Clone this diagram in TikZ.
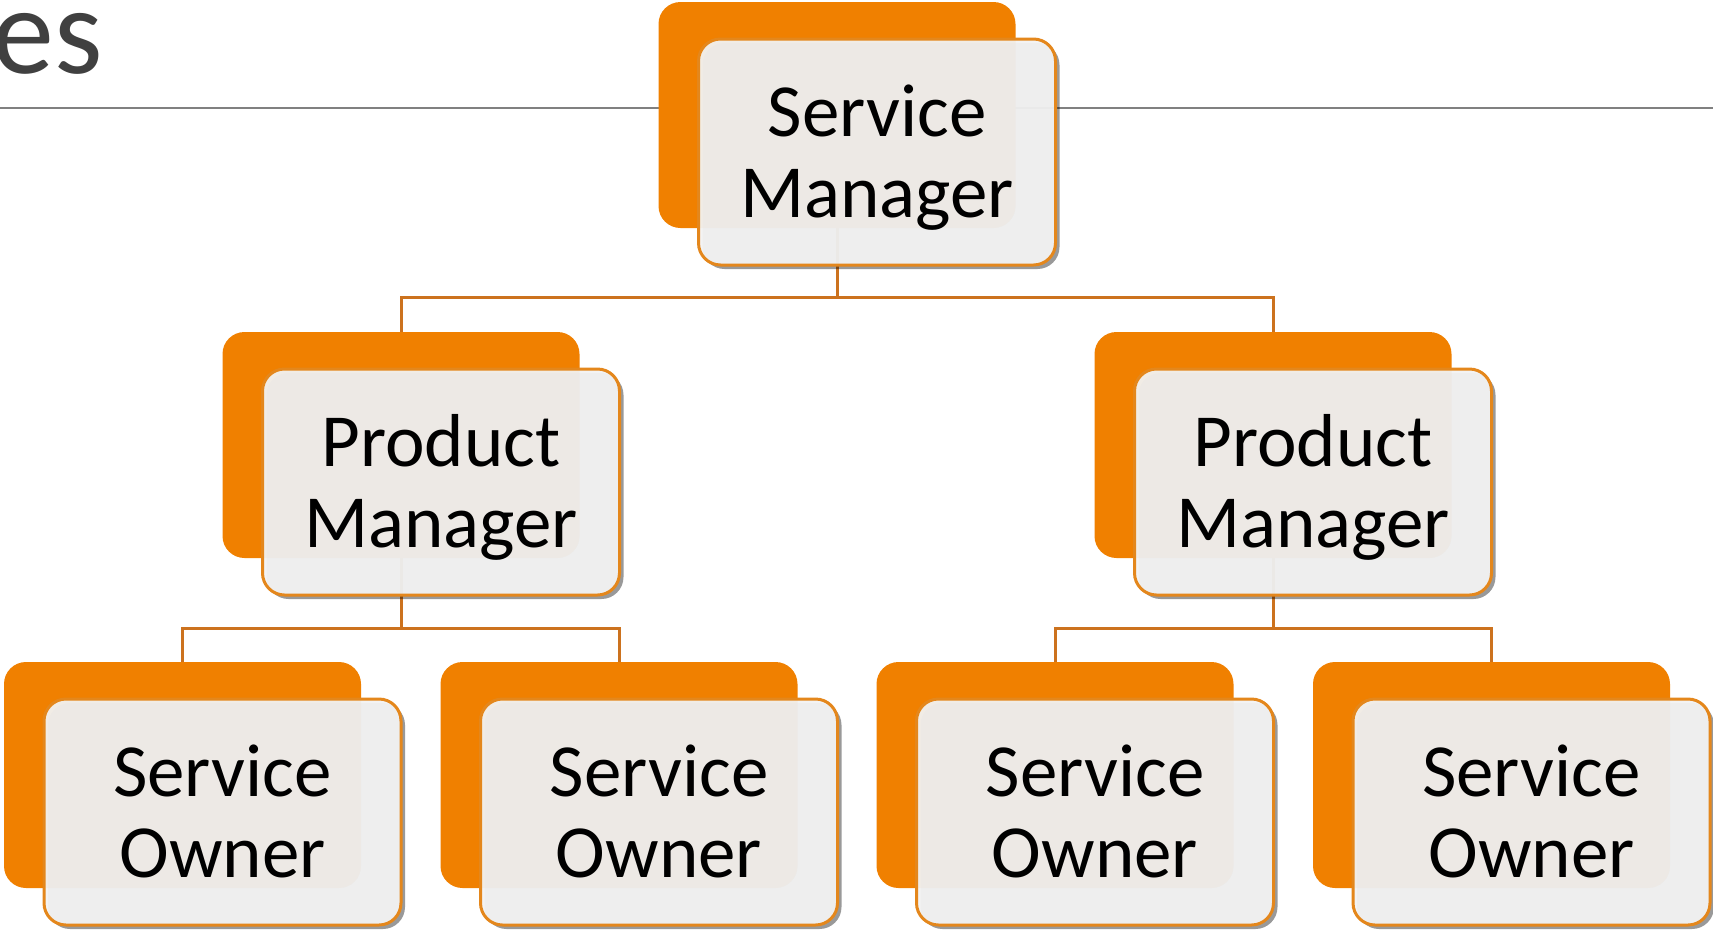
\documentclass[tikz,border=0pt]{standalone}
\usepackage{fontspec}
\setmainfont{Carlito}
\usetikzlibrary{shadows}

\definecolor{boxorange}{RGB}{240,128,0}
\definecolor{boxedge}{RGB}{228,135,28}
\definecolor{boxfill}{RGB}{242,242,242}
\definecolor{linkcol}{RGB}{204,114,30}
\definecolor{rulegray}{RGB}{128,128,128}
\definecolor{titlegray}{RGB}{64,64,64}

% two centred lines with fixed top height and bottom depth
\newcommand{\boxlines}[2]{\rule{0pt}{68pt}#1\\#2\rule[-19pt]{0pt}{0pt}}

\tikzset{
  backcard/.style={draw=none, fill=boxorange, rounded corners=22pt,
    minimum width=357pt, minimum height=226pt, inner sep=0pt},
  frontcard/.style={draw=boxedge, line width=3pt, fill=boxfill,
    fill opacity=0.95, text opacity=1, text=black, rounded corners=22pt,
    minimum width=357pt, minimum height=226pt, inner sep=0pt,
    align=center, font=\fontsize{75}{81}\selectfont,
    drop shadow={shadow xshift=4pt, shadow yshift=-4pt, opacity=0.4, fill=black}},
  link/.style={draw=linkcol, line width=3pt},
  titletext/.style={font=\fontsize{124}{124}\selectfont, text=titlegray,
    inner sep=0pt},
}

\begin{document}
\begin{tikzpicture}[x=1pt, y=-1pt]
  \useasboundingbox (0,0) rectangle (1713,930);

  % title fragment and header rule
  \node[titletext, anchor=base east] (title) at (103,73) {es};
  \coordinate (ruleL) at (0,108);
  \coordinate (ruleR) at (1713,108);
  \draw[rulegray, line width=2pt] (ruleL) -- (ruleR);

  % orange back cards
  \node[backcard] (sm-b)  at (837,115) {};
  \node[backcard] (pm1-b) at (401,445) {};
  \node[backcard] (pm2-b) at (1273,445) {};
  \node[backcard] (so1-b) at (182.5,775) {};
  \node[backcard] (so2-b) at (619,775) {};
  \node[backcard] (so3-b) at (1055,775) {};
  \node[backcard] (so4-b) at (1491.5,775) {};

  % hierarchy connectors
  \draw[link] (sm-b.south) -- ++(0,69) -| (pm1-b.north);
  \draw[link] (sm-b.south) -- ++(0,69) -| (pm2-b.north);
  \draw[link] (pm1-b.south) -- ++(0,70) -| (so1-b.north);
  \draw[link] (pm1-b.south) -- ++(0,70) -| (so2-b.north);
  \draw[link] (pm2-b.south) -- ++(0,70) -| (so3-b.north);
  \draw[link] (pm2-b.south) -- ++(0,70) -| (so4-b.north);

  % light front cards with the labels
  \node[frontcard] (sm)  at (877,152) {\boxlines{Service}{Manager}};
  \node[frontcard] (pm1) at (441,482) {\boxlines{Product}{Manager}};
  \node[frontcard] (pm2) at (1313,482) {\boxlines{Product}{Manager}};
  \node[frontcard] (so1) at (222.5,812) {\boxlines{Service}{Owner}};
  \node[frontcard] (so2) at (659,812) {\boxlines{Service}{Owner}};
  \node[frontcard] (so3) at (1095,812) {\boxlines{Service}{Owner}};
  \node[frontcard] (so4) at (1531.5,812) {\boxlines{Service}{Owner}};
\end{tikzpicture}
\end{document}
